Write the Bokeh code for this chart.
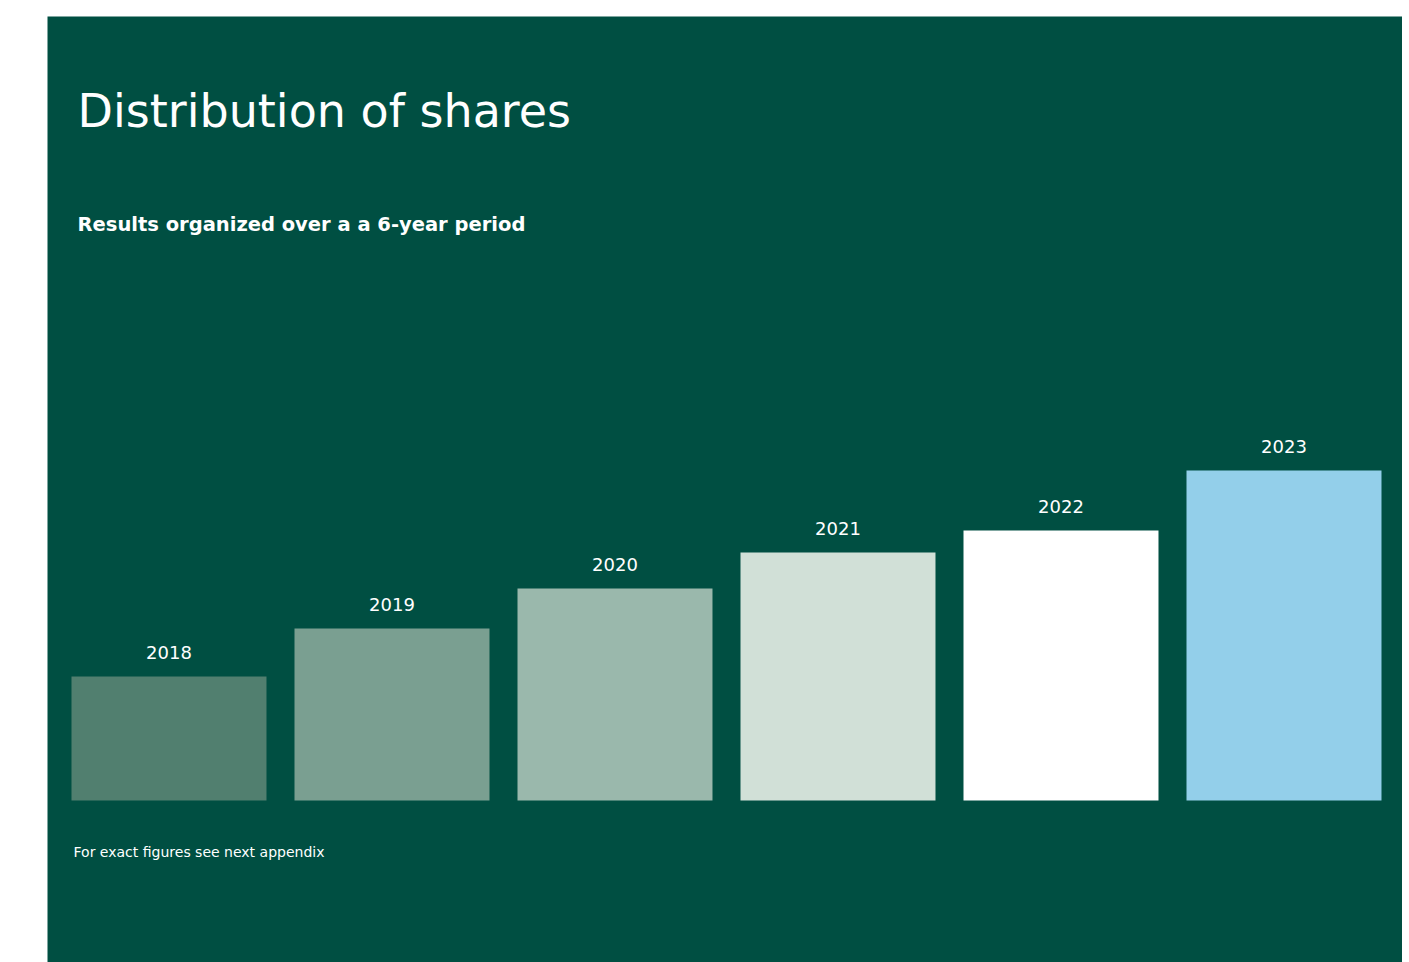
from bokeh.plotting import figure
from bokeh.models import Range1d, ColumnDataSource
from bokeh.core.properties import value
from bokeh.embed import file_html
from bokeh.resources import INLINE

# ---- data ----
years = ["2018", "2019", "2020", "2021", "2022", "2023"]
shares = [12.4, 17.2, 21.2, 24.8, 27.0, 33.0]
bar_colors = ["#517F6F", "#7A9F91", "#9AB8AC", "#D1E0D7", "#FFFFFF", "#93CFEA"]

title_text = "Distribution of shares"
subtitle_text = "Results organized over a a 6-year period"
note_text = "For exact figures see next appendix"

BG = "#004F42"
FONT = "DejaVu Sans"

positions = list(range(len(years)))
src = ColumnDataSource(dict(x=positions, top=shares, year=years, color=bar_colors))

p = figure(width=1402, height=962, output_backend="svg", toolbar_location=None,
           x_range=Range1d(-0.5448, 5.5314), y_range=Range1d(-16.2, 78.4),
           min_border_left=47, min_border_right=0, min_border_top=16, min_border_bottom=0)
p.background_fill_color = BG
p.border_fill_color = "white"
p.outline_line_color = None
p.axis.visible = False
p.grid.visible = False

p.vbar(x="x", top="top", bottom=0, width=0.8744, color="color", line_color=None, source=src)

p.text(x="x", y="top", text="year", source=src, text_align="center",
       text_baseline="alphabetic", y_offset=-24, text_color="white",
       text_font=value(FONT), text_font_size="18px")

p.text(x=[-0.41], y=[69.0], text=[title_text], text_color="white", text_font=value(FONT),
       text_font_size="46px", text_baseline="alphabetic", text_align="left")
p.text(x=[-0.41], y=[57.6], text=[subtitle_text], text_color="white", text_font=value(FONT),
       text_font_size="19.5px", text_font_style="bold", text_baseline="alphabetic", text_align="left")
p.text(x=[-0.428], y=[-5.15], text=[note_text], text_color="white", text_font=value(FONT),
       text_font_size="14px", text_baseline="alphabetic", text_align="left")

open("out.html", "w").write(file_html(p, INLINE))
